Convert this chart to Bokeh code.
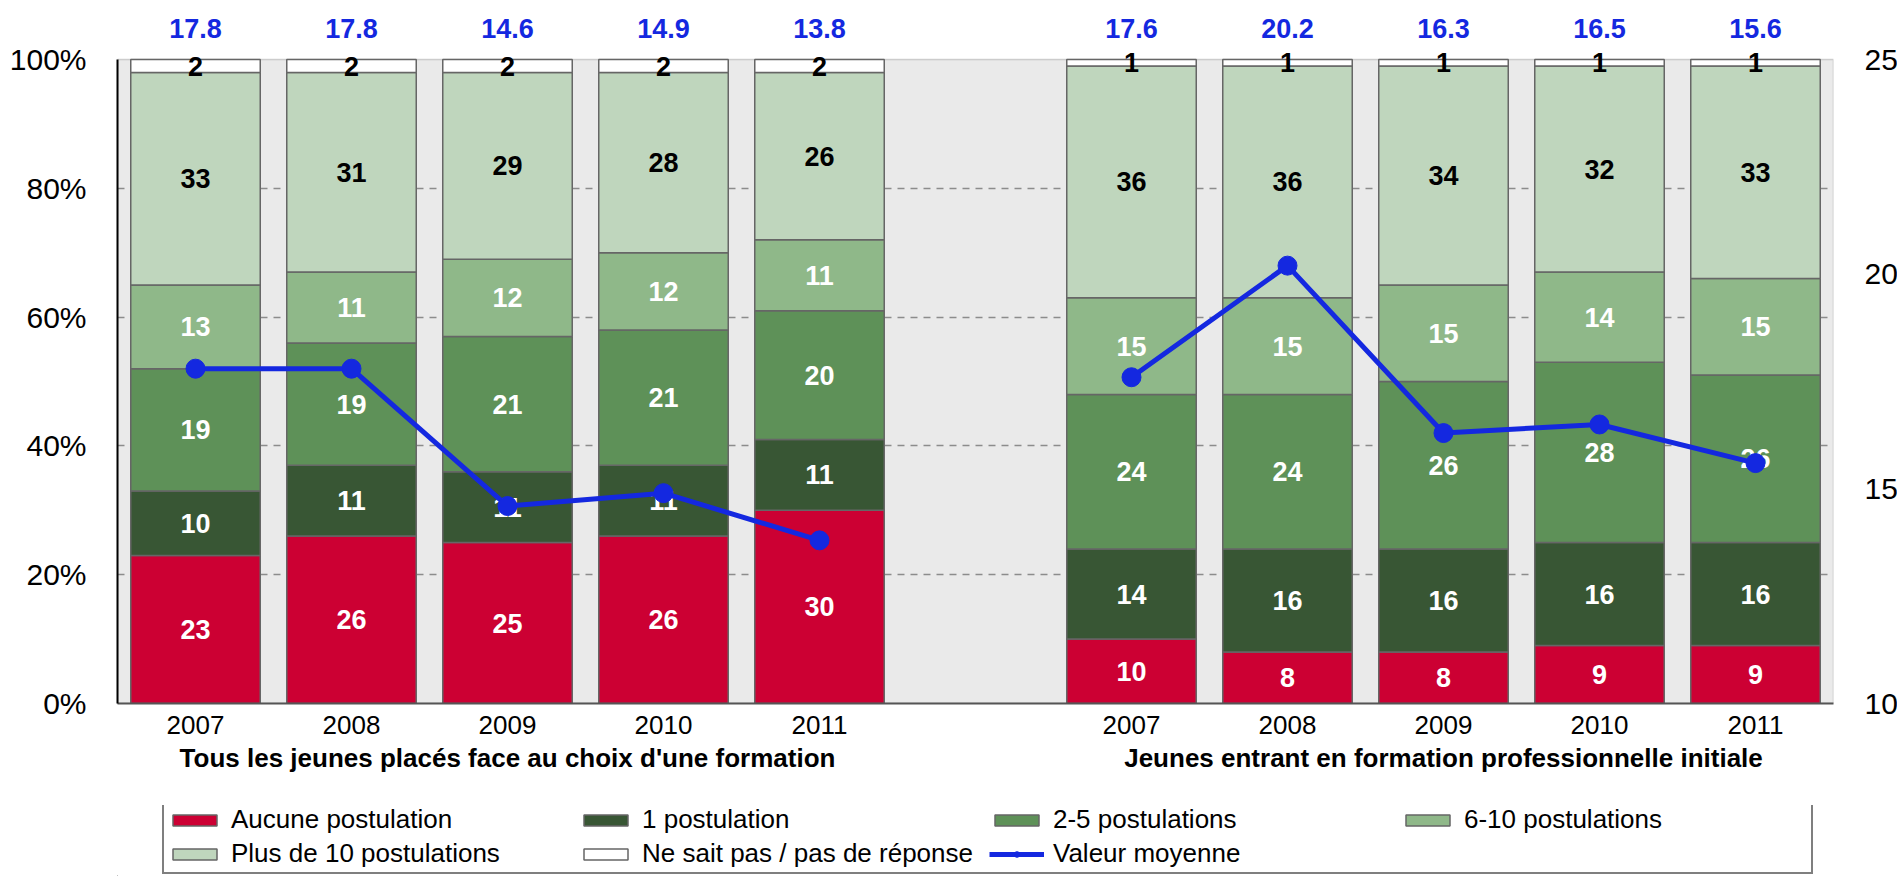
from bokeh.plotting import figure
from bokeh.layouts import column
from bokeh.models import (ColumnDataSource, FactorRange, Range1d, LinearAxis, FixedTicker,
                          PrintfTickFormatter, BoxAnnotation, Legend, LegendItem)
from bokeh.core.properties import value
from bokeh.embed import file_html
from bokeh.resources import INLINE

# ---------------- data ----------------
groups = ["Tous les jeunes placés face au choix d'une formation",
          "Jeunes entrant en formation professionnelle initiale"]
years = ["2007", "2008", "2009", "2010", "2011"]

series_names = ["Aucune postulation", "1 postulation", "2-5 postulations",
                "6-10 postulations", "Plus de 10 postulations",
                "Ne sait pas / pas de réponse"]
line_name = "Valeur moyenne"

aucune_g1 = [23, 26, 25, 26, 30]
p1_g1 = [10, 11, 11, 11, 11]
p2_5_g1 = [19, 19, 21, 21, 20]
p6_10_g1 = [13, 11, 12, 12, 11]
p10_g1 = [33, 31, 29, 28, 26]
nsp_g1 = [2, 2, 2, 2, 2]
moy_g1 = [17.8, 17.8, 14.6, 14.9, 13.8]

aucune_g2 = [10, 8, 8, 9, 9]
p1_g2 = [14, 16, 16, 16, 16]
p2_5_g2 = [24, 24, 26, 28, 26]
p6_10_g2 = [15, 15, 15, 14, 15]
p10_g2 = [36, 36, 34, 32, 33]
nsp_g2 = [1, 1, 1, 1, 1]
moy_g2 = [17.6, 20.2, 16.3, 16.5, 15.6]

pct_ticks = [0, 20, 40, 60, 80, 100]
grid_ticks = [20, 40, 60, 80]
moy_ticks = [10, 15, 20, 25]

# ---------------- styles ----------------
FONT = "Liberation Sans"
BLUE = "#1428E0"
OUTLINE = "#666666"
colors = ["#CC0033", "#385634", "#5E9158", "#8FB889", "#BFD6BD", "#FFFFFF"]
label_colors = ["white", "white", "white", "white", "black", "black"]
keys = ["aucune", "p1", "p2_5", "p6_10", "p10", "nsp"]

x1 = [(groups[0], y) for y in years]
x2 = [(groups[1], y) for y in years]
xs = x1 + x2

data = {
    "x": xs,
    "aucune": aucune_g1 + aucune_g2,
    "p1": p1_g1 + p1_g2,
    "p2_5": p2_5_g1 + p2_5_g2,
    "p6_10": p6_10_g1 + p6_10_g2,
    "p10": p10_g1 + p10_g2,
    "nsp": nsp_g1 + nsp_g2,
}
src = ColumnDataSource(data)

PCT_TOP = 107.0
p = figure(x_range=FactorRange(*xs, group_padding=1.0, factor_padding=0.0, range_padding=0.0),
           y_range=Range1d(0, PCT_TOP),
           frame_width=1716, frame_height=689,
           min_border_left=117, min_border_right=64, min_border_top=14, min_border_bottom=102,
           output_backend="svg", toolbar_location=None,
           background_fill_color="white", border_fill_color="white", outline_line_color=None)

p.extra_y_ranges = {"moy": Range1d(start=10, end=10 + 15 * PCT_TOP / 100.0)}

# plot-area background
bg = BoxAnnotation(bottom=0, top=100, fill_color="#EAEAEA", fill_alpha=1.0,
                   line_color="#707070", line_width=1.5, level="image")
p.add_layout(bg)

# grid
p.xgrid.grid_line_color = None
p.ygrid.ticker = FixedTicker(ticks=grid_ticks)
p.ygrid.grid_line_color = "#8C8C8C"
p.ygrid.grid_line_dash = "7 6"
p.ygrid.grid_line_width = 1.5

# bars
bars = p.vbar_stack(keys, x="x", width=0.83, color=colors, line_color=OUTLINE,
                    line_width=1.5, source=src)

# in-bar labels
lab = {"x": [], "y": [], "t": [], "c": []}
for i, xx in enumerate(xs):
    cum = 0
    for k, c in zip(keys, label_colors):
        v = data[k][i]
        lab["x"].append(xx)
        lab["y"].append(cum + v / 2.0)
        lab["t"].append(str(v))
        lab["c"].append(c)
        cum += v
p.text(x="x", y="y", text="t", text_color="c", source=ColumnDataSource(lab),
       text_font=value(FONT), text_font_size="27px", text_font_style="bold",
       text_align="center", text_baseline="middle")

# average line (right axis)
p.line(x=x1, y=moy_g1, y_range_name="moy", line_color=BLUE, line_width=5)
p.scatter(x=x1, y=moy_g1, y_range_name="moy", size=19, fill_color=BLUE, line_color=BLUE)
p.line(x=x2, y=moy_g2, y_range_name="moy", line_color=BLUE, line_width=5)
p.scatter(x=x2, y=moy_g2, y_range_name="moy", size=19, fill_color=BLUE, line_color=BLUE)

# average values above plot
top_src = ColumnDataSource({"x": xs, "y": [104.8] * len(xs),
                            "t": [f"{v:.1f}" for v in moy_g1 + moy_g2]})
p.text(x="x", y="y", text="t", source=top_src, text_color=BLUE,
       text_font=value(FONT), text_font_size="27px", text_font_style="bold",
       text_align="center", text_baseline="middle")

# axes
xa = p.xaxis[0]
xa.major_tick_line_color = None
xa.minor_tick_line_color = None
xa.axis_line_color = "#555555"
xa.axis_line_width = 2
xa.major_label_text_font = FONT
xa.major_label_text_font_size = "26px"
xa.major_label_text_color = "black"
xa.major_label_standoff = 6
xa.group_text_font = FONT
xa.group_text_font_size = "26px"
xa.group_text_font_style = "bold"
xa.group_text_color = "black"
xa.separator_line_color = None

ya = p.yaxis[0]
ya.ticker = FixedTicker(ticks=pct_ticks)
ya.formatter = PrintfTickFormatter(format="%d%%")
ya.bounds = (0, 100)
ya.axis_line_color = "black"
ya.axis_line_width = 2
ya.major_tick_line_color = None
ya.minor_tick_line_color = None
ya.major_label_text_font = FONT
ya.major_label_text_font_size = "30px"
ya.major_label_text_color = "black"
ya.major_label_standoff = 25

ra = LinearAxis(y_range_name="moy", ticker=FixedTicker(ticks=moy_ticks), bounds=(10, 25),
                axis_line_color=None, major_tick_line_color=None, minor_tick_line_color=None,
                major_label_text_font=FONT, major_label_text_font_size="30px",
                major_label_text_color="black", major_label_standoff=25)
p.add_layout(ra, "right")

# ---------------- legend (separate strip below the chart) ----------------
leg = figure(width=1897, height=71, x_range=Range1d(0, 1), y_range=Range1d(0, 1),
             min_border=0, min_border_left=0, min_border_right=0,
             min_border_top=0, min_border_bottom=0,
             x_axis_location=None, y_axis_location=None,
             output_backend="svg", toolbar_location=None,
             background_fill_color="white", border_fill_color="white", outline_line_color=None)
leg.grid.visible = False

# legend proxies: one point each, placed outside the visible range of the strip
items = []
for n, c in zip(series_names, colors):
    r = leg.vbar(x=[-5], top=[-5], bottom=[-6], width=1, fill_color=c,
                 line_color=OUTLINE, line_width=1.5)
    items.append(LegendItem(label=n, renderers=[r]))
lr = leg.line(x=[-5, -6], y=[-5, -6], line_color=BLUE, line_width=5)
sr = leg.scatter(x=[-5], y=[-5], size=19, fill_color=BLUE, line_color=BLUE)
items.append(LegendItem(label=line_name, renderers=[lr, sr]))

legend = Legend(items=items, orientation="horizontal", ncols=4, location=(45, 2),
                glyph_width=55, glyph_height=14, label_standoff=9, label_width=344,
                label_height=29, spacing=3, padding=3, margin=0,
                border_line_color="black", border_line_width=2,
                label_text_font=FONT, label_text_font_size="26px", label_text_color="black",
                background_fill_color="white", background_fill_alpha=1.0)
leg.add_layout(legend, "center")

layout = column(p, leg, spacing=0)

open("out.html", "w").write(file_html(layout, INLINE))
